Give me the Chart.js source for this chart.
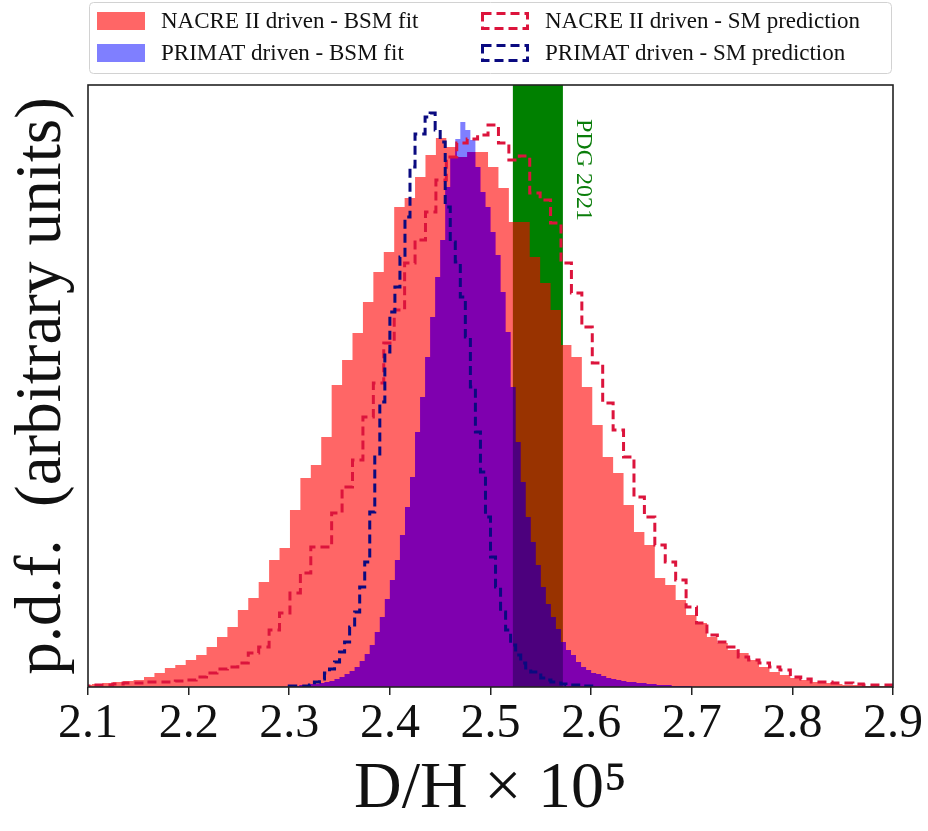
<!DOCTYPE html>
<html>
<head>
<meta charset="utf-8">
<title>D/H p.d.f.</title>
<script src="https://cdn.jsdelivr.net/npm/chart.js@4.4.0/dist/chart.umd.min.js"></script>
<style>
  html, body { margin: 0; padding: 0; background: #fff; }
  #wrap { width: 928px; height: 831px; }
</style>
</head>
<body>
<div id="wrap"><canvas id="dhChart" width="928" height="831"></canvas></div>
<script>
// Histogram bins (D/H x 10^5) and bar heights, arbitrary units
const nacreBinStart = 2.0935;
const nacreBinWidth = 0.01036;
const primatBinStart = 2.30;
const primatBinWidth = 0.005;

const nacreBsmHeights = [
  2, 3, 4, 5, 6, 7, 10, 14, 19, 22,
  27, 32, 40, 50, 60, 77, 89, 105, 127, 139,
  177, 209, 222, 250, 302, 327, 354, 385, 415, 435,
  480, 489, 510, 532, 549, 540, 530, 535, 535, 520,
  499, 465, 465, 430, 404, 377, 342, 330, 300, 262,
  230, 214, 182, 155, 142, 109, 102, 87, 72, 64,
  50, 44, 37, 34, 27, 20, 15, 12, 9, 7,
  5, 4, 3, 2, 2, 1, 1, 1
];

const nacreSmHeights = [
  1, 2, 2, 3, 4, 4, 5, 5, 5, 6,
  7, 10, 14, 18, 20, 24, 34, 40, 57, 74,
  94, 114, 140, 140, 174, 200, 227, 270, 304, 344,
  377, 424, 447, 475, 507, 530, 544, 548, 552, 562,
  544, 527, 531, 494, 487, 464, 424, 394, 360, 324,
  284, 257, 230, 190, 170, 142, 125, 107, 80, 64,
  52, 45, 40, 30, 27, 24, 20, 17, 10, 8,
  5, 5, 4, 4, 3, 2, 2, 2
];

const primatBsmHeights = [
  1, 1, 2, 2, 3, 3, 4, 5, 6, 8,
  10, 13, 16, 20, 26, 33, 42, 55, 70, 88,
  107, 127, 152, 180, 210, 255, 290, 330, 370, 410,
  447, 500, 529, 548, 565, 557, 547, 520, 495, 480,
  455, 432, 395, 355, 300, 245, 205, 170, 145, 122,
  100, 83, 70, 58, 45, 37, 32, 25, 20, 17,
  14, 13, 11, 9, 8, 7, 6, 5, 5, 4,
  4, 3, 3, 2, 2, 2, 1, 1, 1, 1
];

const primatSmHeights = [
  1, 1, 1, 1, 2, 5, 8, 14, 18, 25,
  35, 45, 60, 75, 100, 125, 175, 230, 285, 335,
  375, 400, 430, 470, 520, 553, 553, 570, 574, 557,
  545, 480, 445, 425, 390, 350, 300, 255, 215, 170,
  130, 100, 75, 57, 42, 32, 24, 19, 15, 12,
  9, 7, 5, 4, 3, 2, 2, 2, 1, 1, 1
];

const pdgBand = [2.522, 2.572];
const xTickValues = [2.1, 2.2, 2.3, 2.4, 2.5, 2.6, 2.7, 2.8, 2.9];
const xRange = [2.1, 2.9];
const yMax = 602;

const seriesLabels = [
  "NACRE II driven - BSM fit",
  "PRIMAT driven - BSM fit",
  "NACRE II driven - SM prediction",
  "PRIMAT driven - SM prediction"
];

const SERIF = "'Liberation Serif', 'DejaVu Serif', serif";

// step outline of a histogram, closed down to zero at both ends
function histPoints(start, width, heights) {
  const pts = [{ x: start, y: 0 }];
  heights.forEach(function (h, i) {
    pts.push({ x: start + i * width, y: h });
  });
  pts.push({ x: start + heights.length * width, y: 0 });
  return pts;
}

// clip the context to the filled area of a stepped dataset
function clipToHist(chart, index) {
  const ctx = chart.ctx;
  const pts = chart.getDatasetMeta(index).data;
  ctx.beginPath();
  ctx.moveTo(pts[0].x, pts[0].y);
  for (let i = 1; i < pts.length; i++) {
    ctx.lineTo(pts[i].x, pts[i - 1].y);
    ctx.lineTo(pts[i].x, pts[i].y);
  }
  ctx.closePath();
  ctx.clip();
}

// the blue fit over the red fit comes out as a deep violet
const overlapTint = {
  id: "overlapTint",
  afterDatasetDraw(chart, args) {
    if (args.index !== 1) return;
    const ctx = chart.ctx;
    const a = chart.chartArea;
    ctx.save();
    ctx.beginPath();
    ctx.rect(a.left, a.top, a.right - a.left, a.bottom - a.top);
    ctx.clip();
    clipToHist(chart, 0);
    clipToHist(chart, 1);
    ctx.globalCompositeOperation = "multiply";
    ctx.fillStyle = "rgb(255, 0, 250)";
    ctx.fillRect(a.left, a.top, a.right - a.left, a.bottom - a.top);
    ctx.restore();
  }
};

const legendPanel = {
  id: "legendPanel",
  afterDraw(chart) {
    const ctx = chart.ctx;
    ctx.save();
    ctx.beginPath();
    ctx.roundRect(89.5, 2.5, 802, 71, 4);
    ctx.fillStyle = "rgba(255,255,255,0.85)";
    ctx.fill();
    ctx.strokeStyle = "#d2d2d2";
    ctx.lineWidth = 1;
    ctx.stroke();

    const colX = [97, 481];
    const rowY = [21, 53];
    ctx.font = "23px " + SERIF;
    ctx.textBaseline = "middle";
    ctx.textAlign = "left";
    for (let k = 0; k < 4; k++) {
      const ds = chart.data.datasets[k];
      const x = colX[k < 2 ? 0 : 1];
      const y = rowY[k % 2];
      if (ds.fill) {
        ctx.fillStyle = ds.backgroundColor;
        ctx.fillRect(x, y - 9, 48, 18);
      } else {
        ctx.setLineDash(ds.borderDash);
        ctx.strokeStyle = ds.borderColor;
        ctx.lineWidth = ds.borderWidth;
        ctx.strokeRect(x + 1.5, y - 7.5, 45, 15);
        ctx.setLineDash([]);
      }
      ctx.fillStyle = "#111";
      ctx.fillText(ds.label, x + 64, y + 1);
    }
    ctx.restore();
  }
};

const frameAndNote = {
  id: "frameAndNote",
  afterDatasetsDraw(chart) {
    const ctx = chart.ctx;
    const a = chart.chartArea;
    const xs = chart.scales.x;
    ctx.save();
    // PDG label next to the band
    ctx.translate(xs.getPixelForValue(pdgBand[1]) + 20, a.top + 34);
    ctx.rotate(Math.PI / 2);
    ctx.font = "24px " + SERIF;
    ctx.fillStyle = "#0a7d0a";
    ctx.textAlign = "left";
    ctx.textBaseline = "middle";
    ctx.fillText("PDG 2021", 0, 0);
    ctx.restore();

    ctx.save();
    ctx.strokeStyle = "#222";
    ctx.lineWidth = 1.6;
    ctx.strokeRect(a.left, a.top, a.right - a.left, a.bottom - a.top);
    ctx.restore();
  }
};

const ctx = document.getElementById("dhChart");

new Chart(ctx, {
  type: "line",
  data: {
    datasets: [
      {
        label: seriesLabels[0],
        data: histPoints(nacreBinStart, nacreBinWidth, nacreBsmHeights),
        stepped: "before",
        fill: "origin",
        backgroundColor: "rgba(255, 0, 0, 0.6)",
        borderWidth: 0,
        pointRadius: 0,
        order: 4
      },
      {
        label: seriesLabels[1],
        data: histPoints(primatBinStart, primatBinWidth, primatBsmHeights),
        stepped: "before",
        fill: "origin",
        backgroundColor: "rgba(0, 0, 255, 0.5)",
        borderWidth: 0,
        pointRadius: 0,
        order: 3
      },
      {
        label: seriesLabels[2],
        data: histPoints(nacreBinStart, nacreBinWidth, nacreSmHeights),
        stepped: "before",
        fill: false,
        borderColor: "#dc143c",
        borderWidth: 3,
        borderDash: [9, 5],
        pointRadius: 0,
        order: 2
      },
      {
        label: seriesLabels[3],
        data: histPoints(primatBinStart, primatBinWidth, primatSmHeights),
        stepped: "before",
        fill: false,
        borderColor: "#0a0a80",
        borderWidth: 3,
        borderDash: [9, 5],
        pointRadius: 0,
        order: 1
      },
      {
        label: "PDG 2021",
        data: [
          { x: pdgBand[0], y: yMax },
          { x: pdgBand[1], y: yMax }
        ],
        fill: "origin",
        backgroundColor: "#008000",
        borderWidth: 0,
        pointRadius: 0,
        order: 5
      }
    ]
  },
  options: {
    responsive: false,
    animation: false,
    layout: {
      padding: { top: 85, right: 35, left: 0, bottom: 0 }
    },
    scales: {
      x: {
        type: "linear",
        min: xRange[0],
        max: xRange[1],
        afterBuildTicks: function (scale) {
          scale.ticks = xTickValues.map(function (v) { return { value: v }; });
        },
        afterFit: function (scale) {
          scale.height = 144;
        },
        border: { display: false },
        grid: {
          display: true,
          drawOnChartArea: false,
          drawTicks: true,
          tickLength: 8,
          tickColor: "#222",
          lineWidth: 1.5
        },
        ticks: {
          color: "#111",
          padding: 1,
          maxRotation: 0,
          font: { family: SERIF, size: 48 },
          callback: function (v) { return Number(v).toFixed(1); }
        },
        title: {
          display: true,
          text: "D/H \u00d7 10\u2075",
          color: "#111",
          font: { family: SERIF, size: 66, lineHeight: 1 },
          padding: { top: 0, bottom: 8 }
        }
      },
      y: {
        min: 0,
        max: yMax,
        afterFit: function (scale) {
          scale.width = 88;
        },
        border: { display: false },
        grid: { display: false },
        ticks: { display: false },
        title: {
          display: true,
          text: "p.d.f.  (arbitrary units)",
          color: "#111",
          font: { family: SERIF, size: 65, lineHeight: 1 },
          padding: { top: 10, bottom: 0 }
        }
      }
    },
    plugins: {
      legend: { display: false },
      tooltip: { enabled: false }
    }
  },
  plugins: [overlapTint, legendPanel, frameAndNote]
});
</script>
</body>
</html>
